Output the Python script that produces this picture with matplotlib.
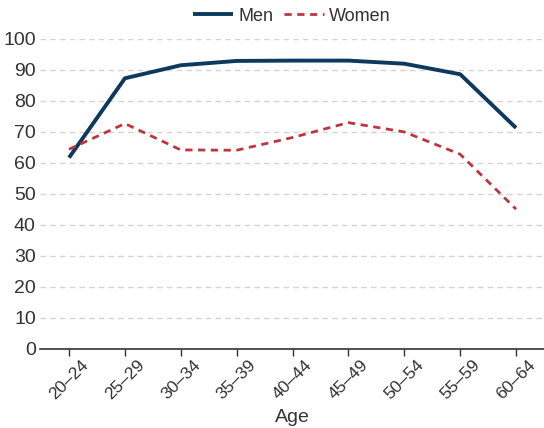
import numpy as np
import matplotlib
matplotlib.use('Agg')
import matplotlib.pyplot as plt
import matplotlib.transforms as mtransforms

plt.rcParams['font.family'] = ['Liberation Sans', 'DejaVu Sans']

ages = ['20–24', '25–29', '30–34', '35–39', '40–44', '45–49', '50–54', '55–59', '60–64']
men = [61.7, 87.3, 91.5, 92.9, 93.0, 93.0, 92.0, 88.6, 71.3]
women = [64.4, 72.7, 64.2, 64.1, 68.2, 73.0, 70.0, 62.8, 45.1]

fig = plt.figure(figsize=(5.44, 4.28), dpi=100)
ax = fig.add_axes([0.0735, 0.1846, 0.9265, 0.7245])

x = np.arange(len(ages))
ax.plot(x, men, color='#0d3a5c', lw=2.8, label='Men', solid_capstyle='butt')
ax.plot(x, women, color='#c0353d', lw=2.0, dashes=(2.6, 2.0), label='Women')

ax.set_xlim(-0.52, 8.5)
ax.set_ylim(0, 100)
ax.set_yticks(range(0, 101, 10))
ax.set_xticks(x)
ax.set_xticklabels(ages, rotation=45, ha='center', fontsize=12.5, color='#333333')
# nudge labels a little left of the tick, like the original
shift = mtransforms.ScaledTranslation(-4 / 72, 0, fig.dpi_scale_trans)
for lbl in ax.get_xticklabels():
    lbl.set_transform(lbl.get_transform() + shift)
ax.tick_params(axis='y', length=0, labelsize=14, labelcolor='#333333', pad=3)
ax.tick_params(axis='x', length=5, color='#333333', width=1, pad=1)

ax.grid(axis='y', color='#d4d4d4', ls=(0, (4, 3)), lw=1)
ax.set_axisbelow(True)
for s in ['top', 'right', 'left']:
    ax.spines[s].set_visible(False)
ax.spines['bottom'].set_color('#333333')
ax.spines['bottom'].set_linewidth(1.2)

ax.set_xlabel('Age', fontsize=14, color='#333333', va='center')
ax.xaxis.set_label_coords(0.5, -0.222)

ax.legend(loc='lower center', bbox_to_anchor=(0.5, 1.005), ncol=2, frameon=False,
          fontsize=13, handlelength=2.2, columnspacing=0.6, handletextpad=0.3,
          borderaxespad=0.3, labelcolor='#333333')

fig.savefig('out.png', dpi=100)
